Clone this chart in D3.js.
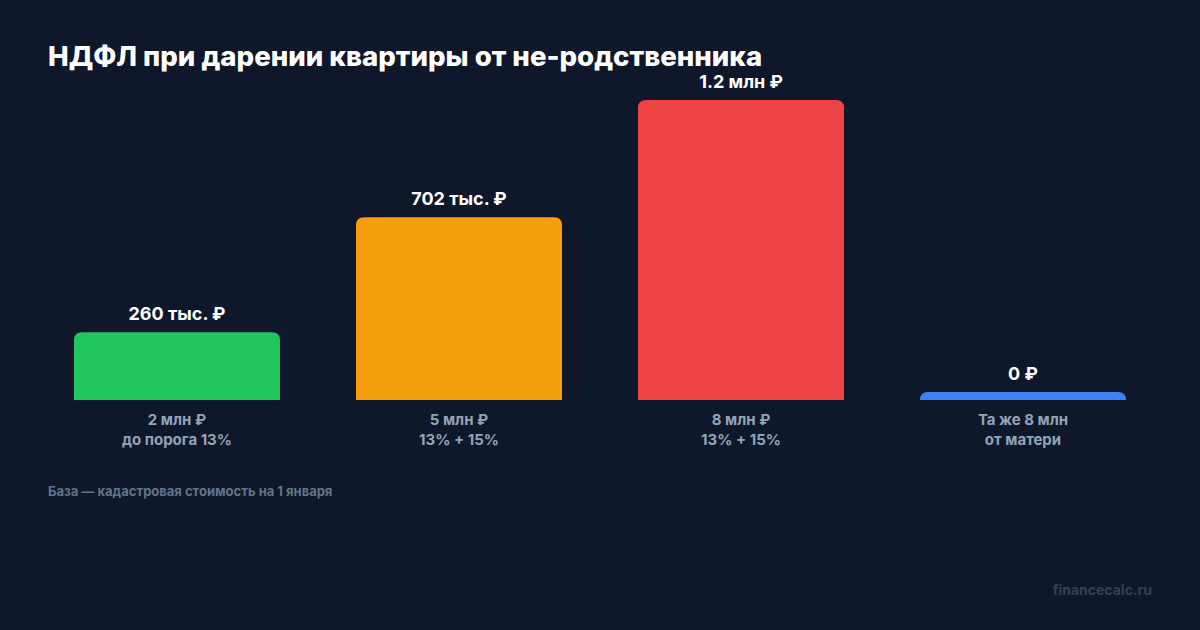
<!DOCTYPE html>
<html>
<head>
<meta charset="utf-8">
<script src="https://cdn.jsdelivr.net/npm/d3@7"></script>
<style>
  html, body { margin: 0; padding: 0; background: #0f172a; }
  svg { display: block; font-family: Inter, "Noto Sans", sans-serif; }
</style>
</head>
<body>
<div id="chart"></div>
<script>
// chart data
const categories = ["2 млн ₽|до порога 13%", "5 млн ₽|13% + 15%", "8 млн ₽|13% + 15%", "Та же 8 млн|от матери"];
const taxValues = [260000, 702000, 1152000, 0];
const valueLabels = ["260 тыс. ₽", "702 тыс. ₽", "1.2 млн ₽", "0 ₽"];
const barColors = ["#22c55e", "#f59e0b", "#ef4444", "#3b82f6"];

const width = 1200, height = 630;
const baseline = 400;

const svg = d3.select("#chart").append("svg")
    .attr("width", width)
    .attr("height", height);

svg.append("rect")
    .attr("width", width)
    .attr("height", height)
    .attr("fill", "#0f172a");

// title
svg.append("text")
    .attr("x", 48)
    .attr("y", 66)
    .attr("fill", "#ffffff")
    .attr("font-size", 27.6)
    .attr("font-weight", 800)
    .text("НДФЛ при дарении квартиры от не-родственника");

const x = d3.scaleBand()
    .domain(categories)
    .range([74, 1126])
    .paddingInner(76 / 282)
    .paddingOuter(0);

const y = d3.scaleLinear()
    .domain([0, d3.max(taxValues)])
    .range([baseline, 100]);

// bar with rounded top corners only
function topRounded(x0, y0, w, h, r) {
    r = Math.min(r, h, w / 2);
    return "M" + x0 + "," + (y0 + h) +
        "V" + (y0 + r) +
        "Q" + x0 + "," + y0 + " " + (x0 + r) + "," + y0 +
        "H" + (x0 + w - r) +
        "Q" + (x0 + w) + "," + y0 + " " + (x0 + w) + "," + (y0 + r) +
        "V" + (y0 + h) + "Z";
}

const minH = 8;
const bars = categories.map((c, i) => {
    const h = Math.max(minH, baseline - y(taxValues[i]));
    return {cat: c, top: baseline - h, h: h, i: i};
});

svg.selectAll("path.bar")
    .data(bars)
    .enter()
    .append("path")
    .attr("class", "bar")
    .attr("d", d => topRounded(x(d.cat), d.top, x.bandwidth(), d.h, 8))
    .attr("fill", d => barColors[d.i]);

// value labels
svg.selectAll("text.value")
    .data(bars)
    .enter()
    .append("text")
    .attr("class", "value")
    .attr("x", d => x(d.cat) + x.bandwidth() / 2)
    .attr("y", d => d.top - 12)
    .attr("text-anchor", "middle")
    .attr("fill", "#ffffff")
    .attr("font-size", 18)
    .attr("font-weight", 700)
    .text(d => valueLabels[d.i]);

// category labels (two lines)
const catText = svg.selectAll("text.cat")
    .data(categories)
    .enter()
    .append("text")
    .attr("class", "cat")
    .attr("text-anchor", "middle")
    .attr("fill", "#94a3b8")
    .attr("font-size", 15)
    .attr("font-weight", 700);

catText.each(function(c) {
    const lines = c.split("|");
    const t = d3.select(this);
    lines.forEach((line, k) => {
        t.append("tspan")
            .attr("x", x(c) + x.bandwidth() / 2)
            .attr("y", 425 + k * 20)
            .text(line);
    });
});

// footnote
svg.append("text")
    .attr("x", 48)
    .attr("y", 496)
    .attr("fill", "#64748b")
    .attr("font-size", 13)
    .attr("font-weight", 700)
    .text("База — кадастровая стоимость на 1 января");

// watermark
svg.append("text")
    .attr("x", 1152)
    .attr("y", 595)
    .attr("text-anchor", "end")
    .attr("fill", "#334155")
    .attr("font-size", 14)
    .attr("font-weight", 700)
    .text("financecalc.ru");
</script>
</body>
</html>
